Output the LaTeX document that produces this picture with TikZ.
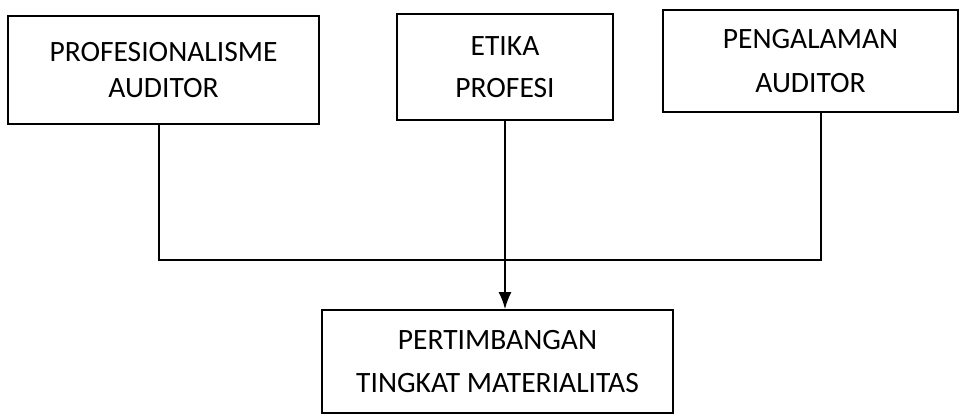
\documentclass[tikz,border=0pt]{standalone}
\usepackage{fontspec}
\setmainfont{Carlito}
\usetikzlibrary{positioning,arrows.meta,calc}

\begin{document}
\begin{tikzpicture}[>={Latex[length=3.4mm,width=2.6mm]},
	varbox/.style={draw, line width=1pt, align=center, inner sep=0pt,
		font=\fontsize{16.8}{20}\selectfont},
	link/.style={line width=1pt}]
	\useasboundingbox (0,0) rectangle (19.2,-8.3);

	\node[varbox, minimum width=6.22cm, minimum height=2.16cm]
		  (prof) at (3.27,-1.40) {PROFESIONALISME\\AUDITOR};
	\node[varbox, minimum width=4.32cm, minimum height=2.12cm,
		  font=\fontsize{16.8}{24}\selectfont]
		  (etika) at (10.10,-1.34) {ETIKA\\PROFESI};
	\node[varbox, minimum width=5.90cm, minimum height=2.04cm,
		  font=\fontsize{16.8}{25}\selectfont]
		  (peng) at (16.21,-1.22) {PENGALAMAN\\AUDITOR};
	\node[varbox, minimum width=7.02cm, minimum height=2.06cm,
		  font=\fontsize{16.8}{24}\selectfont]
		  (pert) at (9.95,-7.23) {PERTIMBANGAN\\TINGKAT MATERIALITAS};

	\coordinate (jleft) at (3.18,-5.2);
	\coordinate (jright) at (16.42,-5.2);

	\draw[link] (prof.south -| jleft) -- (jleft) -- (jright) -- (peng.south -| jright);
	\draw[link,->] (etika.south) -- (etika.south |- pert.north);
\end{tikzpicture}
\end{document}
